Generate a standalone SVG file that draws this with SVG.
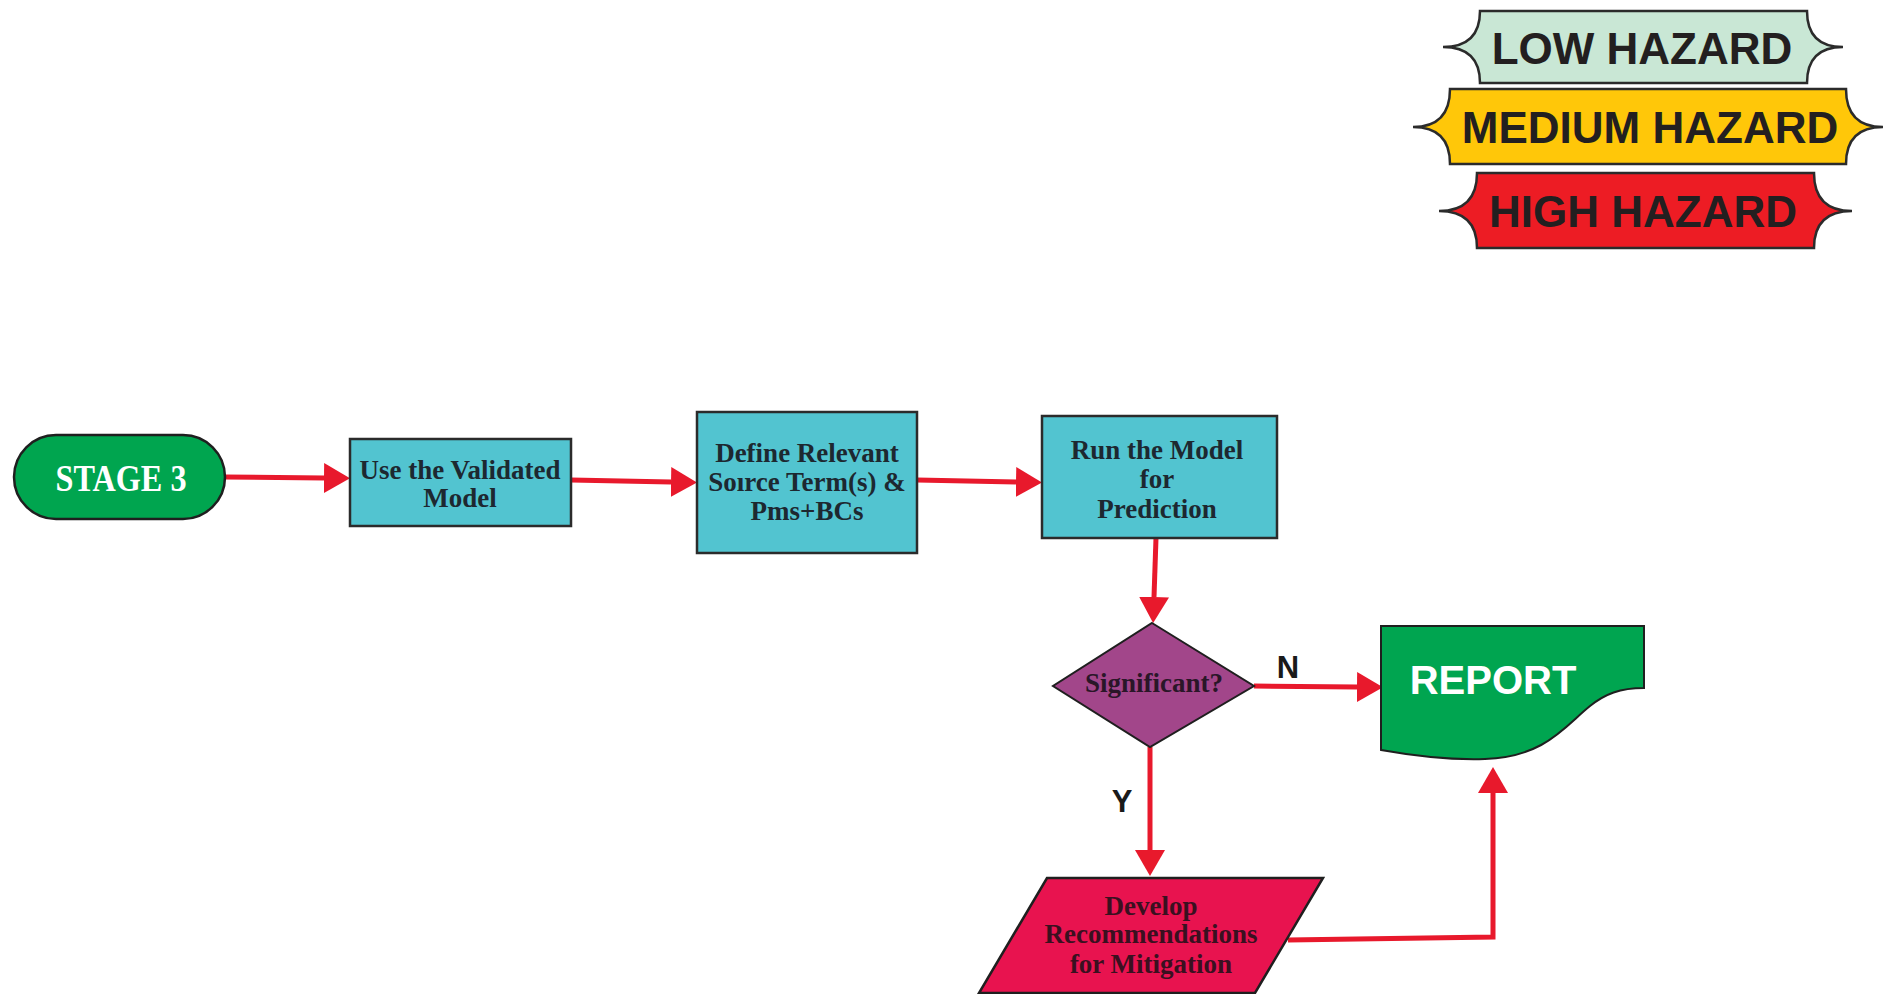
<svg xmlns="http://www.w3.org/2000/svg" width="1897" height="994" viewBox="0 0 1897 994">
<style>
.box{fill:#52c4d0;stroke:#2b2b2b;stroke-width:2.5}
.lbl{font-family:"Liberation Serif","Times New Roman",serif;font-weight:bold;font-size:27px;fill:#1d2830;text-anchor:middle}
.haz{font-family:"Liberation Sans",Arial,sans-serif;font-weight:bold;font-size:44px;fill:#231f20;text-anchor:middle}
.tag{stroke:#2b2b2b;stroke-width:2.5}
.yn{font-family:"Liberation Sans",Arial,sans-serif;font-weight:bold;font-size:31px;fill:#1a1a1a;text-anchor:middle}
.conn{fill:none;stroke:#e8192c;stroke-width:5}
</style>
<defs>
<marker id="ah" markerUnits="userSpaceOnUse" markerWidth="26" markerHeight="30" refX="0" refY="15" orient="auto" viewBox="0 0 26 30">
<path d="M0,0 L26,15 L0,30 Z" fill="#e8192c"/>
</marker>
</defs>
<rect width="1897" height="994" fill="#ffffff"/>

<g id="legend-low">
<path class="tag" fill="#c9e7d5" d="M1480,11 H1807 Q1807,47 1843,47 Q1807,47 1807,83 H1480 Q1480,47 1443,47 Q1480,47 1480,11 Z"/>
<text class="haz" x="1642" y="64">LOW HAZARD</text>
</g>
<g id="legend-medium">
<path class="tag" fill="#ffc709" d="M1450,89 H1846 Q1846,127 1883,127 Q1846,127 1846,164 H1450 Q1450,127 1413,127 Q1450,127 1450,89 Z"/>
<text class="haz" x="1650" y="143">MEDIUM HAZARD</text>
</g>
<g id="legend-high">
<path class="tag" fill="#ed1c24" d="M1477,173 H1814 Q1814,211 1852,211 Q1814,211 1814,248 H1477 Q1477,211 1439,211 Q1477,211 1477,173 Z"/>
<text class="haz" x="1643" y="227">HIGH HAZARD</text>
</g>

<g id="connectors">
<line class="conn" x1="225" y1="477" x2="324" y2="478" marker-end="url(#ah)"/>
<line class="conn" x1="571" y1="480" x2="671" y2="482" marker-end="url(#ah)"/>
<line class="conn" x1="917" y1="480" x2="1016" y2="482" marker-end="url(#ah)"/>
<line class="conn" x1="1156" y1="538" x2="1154" y2="597" marker-end="url(#ah)"/>
<line class="conn" x1="1254" y1="686" x2="1357" y2="687" marker-end="url(#ah)"/>
<line class="conn" x1="1150" y1="747" x2="1150" y2="850" marker-end="url(#ah)"/>
<polyline class="conn" points="1288,940 1493,937 1493,793" marker-end="url(#ah)"/>
<text class="yn" x="1288" y="678">N</text>
<text class="yn" x="1122" y="812">Y</text>
</g>

<g id="stage3">
<rect x="14" y="435" width="211" height="84" rx="42" ry="42" fill="#00a54f" stroke="#1f1f1f" stroke-width="2.5"/>
<text x="121" y="491" font-family="'Liberation Serif','Times New Roman',serif" font-weight="bold" font-size="37" fill="#ffffff" text-anchor="middle" textLength="131" lengthAdjust="spacingAndGlyphs">STAGE 3</text>
</g>

<g id="use-model">
<rect class="box" x="350" y="439" width="221" height="87"/>
<text class="lbl" x="460" y="479">Use the Validated</text>
<text class="lbl" x="460" y="507">Model</text>
</g>

<g id="define-source">
<rect class="box" x="697" y="412" width="220" height="141"/>
<text class="lbl" x="807" y="462">Define Relevant</text>
<text class="lbl" x="807" y="491">Soırce Term(s) &amp;</text>
<text class="lbl" x="807" y="520">Pms+BCs</text>
</g>

<g id="run-model">
<rect class="box" x="1042" y="416" width="235" height="122"/>
<text class="lbl" x="1157" y="459">Run the Model</text>
<text class="lbl" x="1157" y="488">for</text>
<text class="lbl" x="1157" y="518">Prediction</text>
</g>

<g id="significant">
<polygon points="1152,623 1254,686 1150,747 1053,686" fill="#a2468a" stroke="#1f1f1f" stroke-width="2"/>
<text class="lbl" x="1154" y="692" fill="#2a1628" style="fill:#2a1628">Significant?</text>
</g>

<g id="report">
<path d="M1381,626 H1644 V688 C1620,688 1605,694 1590,706 C1565,726 1545,757 1485,759 C1455,760 1420,757 1381,750 Z" fill="#00a550" stroke="#1f1f1f" stroke-width="2"/>
<text x="1493" y="694" font-family="'Liberation Sans',Arial,sans-serif" font-weight="bold" font-size="40" fill="#ffffff" text-anchor="middle">REPORT</text>
</g>

<g id="mitigation">
<polygon points="1047,878 1323,878 1255,993 979,993" fill="#e8134f" stroke="#1f1f1f" stroke-width="2.5"/>
<text class="lbl" x="1151" y="915" style="fill:#3a1020">Develop</text>
<text class="lbl" x="1151" y="943" style="fill:#3a1020">Recommendations</text>
<text class="lbl" x="1151" y="973" style="fill:#3a1020">for Mitigation</text>
</g>
</svg>
